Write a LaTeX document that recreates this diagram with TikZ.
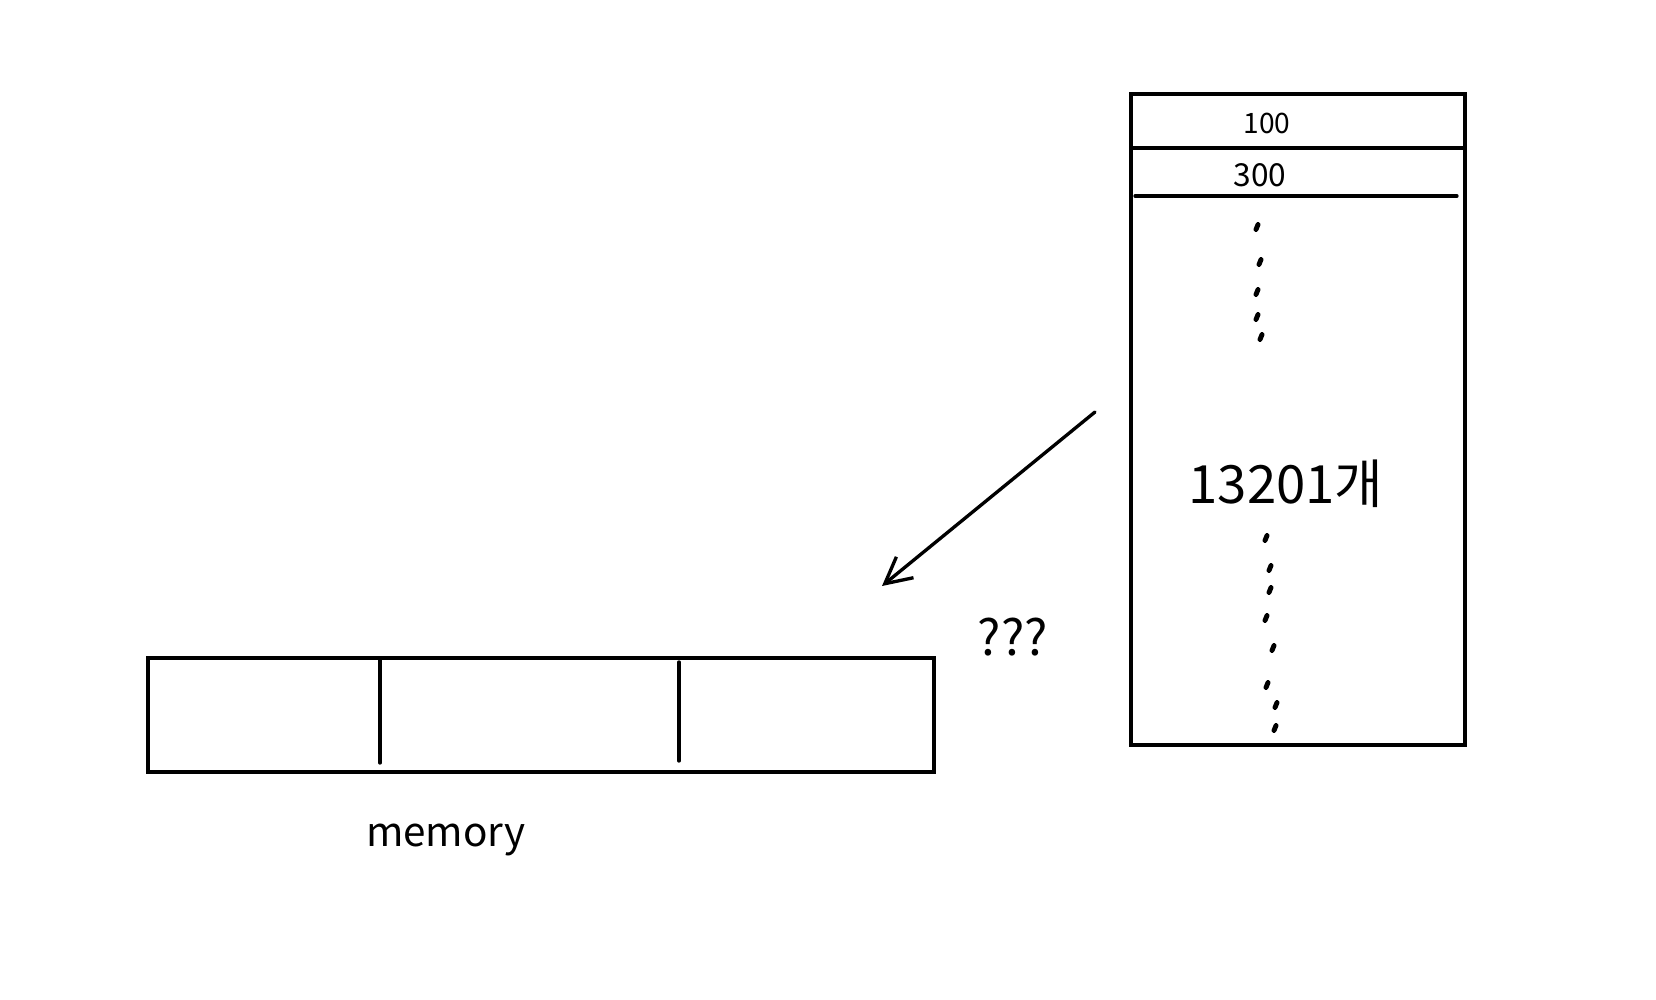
\documentclass[tikz,border=0pt]{standalone}
\usepackage{fontspec}
\setmainfont{Noto Sans CJK KR}
\usetikzlibrary{arrows.meta}

\begin{document}
\begin{tikzpicture}[x=0.01cm,y=-0.01cm,line width=0.95pt,line cap=round]
\useasboundingbox(0,0)rectangle(1656,999);
% table on the right
\draw(1131,94)rectangle(1465,745);\draw(1131,148)--(1465,148);\draw(1135,196)--(1457,196);
\node(first)at(1267,123){\fontsize{8}{8}\selectfont 100};\node(second)at(1260,175){\fontsize{9}{9}\selectfont 300};
\node(count)at(1286,484){\fontsize{15}{15}\selectfont 13201개};
\foreach \x/\y in {1257/227,1260/262,1257/292,1257/317,1261/337,1266/538,1270/568,1270/590,1266/618,1273/648,1267/685,1276/705,1275/728}
  \draw[line width=1.4pt](\x+1,\y-2.5)--(\x-1,\y+2.5);
% memory
\draw(148,658)rectangle(934,772);\draw(380,658)--(380,763)(679,662)--(679,761);
\node(mem)at(446,840){\fontsize{11.5}{11.5}\selectfont memory};
\node(q)at(1013,637){\fontsize{14}{14}\selectfont ???};
\coordinate(from)at(1095,412);\coordinate(to)at(882,586);
\draw[-{Straight Barb[length=0.26cm,width=0.27cm]}](from)--(to);
\end{tikzpicture}
\end{document}
